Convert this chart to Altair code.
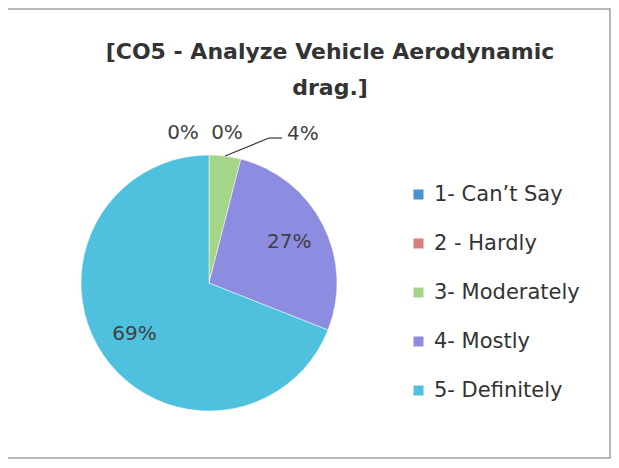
import altair as alt
import pandas as pd

categories = ["1- Can\u2019t Say", "2 - Hardly", "3- Moderately", "4- Mostly", "5- Definitely"]
values = [0, 0, 4, 27, 69]
labels = ["0%", "0%", "4%", "27%", "69%"]
colors = ["#4a8fcf", "#d9807e", "#a5d586", "#8c8ce0", "#4fc1df"]
title_lines = ["[CO5 - Analyze Vehicle Aerodynamic", "drag.]"]

df = pd.DataFrame({"cat": categories, "value": values, "label": labels,
                   "order": list(range(len(categories)))})

R = 128
base = alt.Chart(df).encode(
    theta=alt.Theta("value:Q", stack=True),
    order=alt.Order("order:Q"),
)

color = alt.Color("cat:N", scale=alt.Scale(domain=categories, range=colors),
                  legend=alt.Legend(title=None, orient="none", legendX=327, legendY=29,
                                    symbolType="square", symbolSize=100,
                                    symbolStrokeWidth=0,
                                    labelFontSize=21, labelFont="DejaVu Sans",
                                    labelColor="#333333", rowPadding=27, labelOffset=5))

arcs = base.mark_arc(outerRadius=R, stroke="#ffffff", strokeWidth=0.5).encode(color=color)

# angular midpoints (radians) computed from the data, before any filtering
mids = alt.Chart(df).transform_joinaggregate(total="sum(value)").transform_window(
    cum="sum(value)", sort=[alt.SortField("order")], frame=[None, 0]
).transform_calculate(
    mid="(datum.cum - datum.value/2) / datum.total * 2 * PI",
)

txt = dict(font="DejaVu Sans", fontSize=20, color="#404040")
th = alt.Theta("mid:Q", scale=None)
inside = mids.mark_text(radius=90, **txt).encode(theta=th, text="label:N").transform_filter("datum.value >= 10")
out1 = mids.mark_text(radius=150, dx=-26, **txt).encode(theta=th, text="label:N").transform_filter("datum.order == 0")
out2 = mids.mark_text(radius=150, dx=18, **txt).encode(theta=th, text="label:N").transform_filter("datum.order == 1")
out3 = mids.mark_text(radius=150, dx=75, **txt).encode(theta=th, text="label:N").transform_filter("datum.order == 2")

# leader line for the small slice
lead_src = mids.transform_calculate(
    lx=f"{R} + {R}*sin(datum.mid)",
    ly=f"{R} - {R}*cos(datum.mid)",
    ex=f"{R} + {R}*sin(datum.mid) + 44",
    ey=f"{R} - {R}*cos(datum.mid) - 18",
    hx=f"{R} + {R}*sin(datum.mid) + 57",
).transform_filter("datum.order == 2")

lead1 = lead_src.mark_rule(color="#333333", strokeWidth=1.2).encode(
    x=alt.X("lx:Q", scale=None), y=alt.Y("ly:Q", scale=None),
    x2="ex:Q", y2="ey:Q")
lead2 = lead_src.mark_rule(color="#333333", strokeWidth=1.2).encode(
    x=alt.X("ex:Q", scale=None), y=alt.Y("ey:Q", scale=None),
    x2="hx:Q", y2="ey:Q")

frame = alt.Chart(df).mark_rect(fill=None, stroke="#a0a0a0", strokeWidth=1.5).encode(
    x=alt.value(-120), x2=alt.value(529), y=alt.value(-146), y2=alt.value(303)
).transform_filter("datum.order == 0")

tdf = pd.DataFrame({"t": title_lines, "i": list(range(len(title_lines)))})
title = alt.Chart(tdf).mark_text(font="DejaVu Sans", fontSize=22, fontWeight="bold",
                                 color="#333333", align="center", baseline="alphabetic").encode(
    text="t:N",
    x=alt.value(249),
    y=alt.Y("i:Q", scale=alt.Scale(domain=[0, 1], range=[-96, -60]), axis=None),
)

chart = alt.layer(frame, title, arcs, inside, out1, out2, out3, lead1, lead2).properties(
    width=2 * R, height=2 * R,
    autosize=alt.AutoSizeParams(type="none"),
    padding={"left": 73, "top": 147, "right": 274, "bottom": 49},
).resolve_scale(y="independent").configure(
    background="#ffffff",
    view=alt.ViewConfig(strokeWidth=0, stroke="transparent"),
)

chart.save("out.html", embed_options={"renderer": "svg", "actions": False})
